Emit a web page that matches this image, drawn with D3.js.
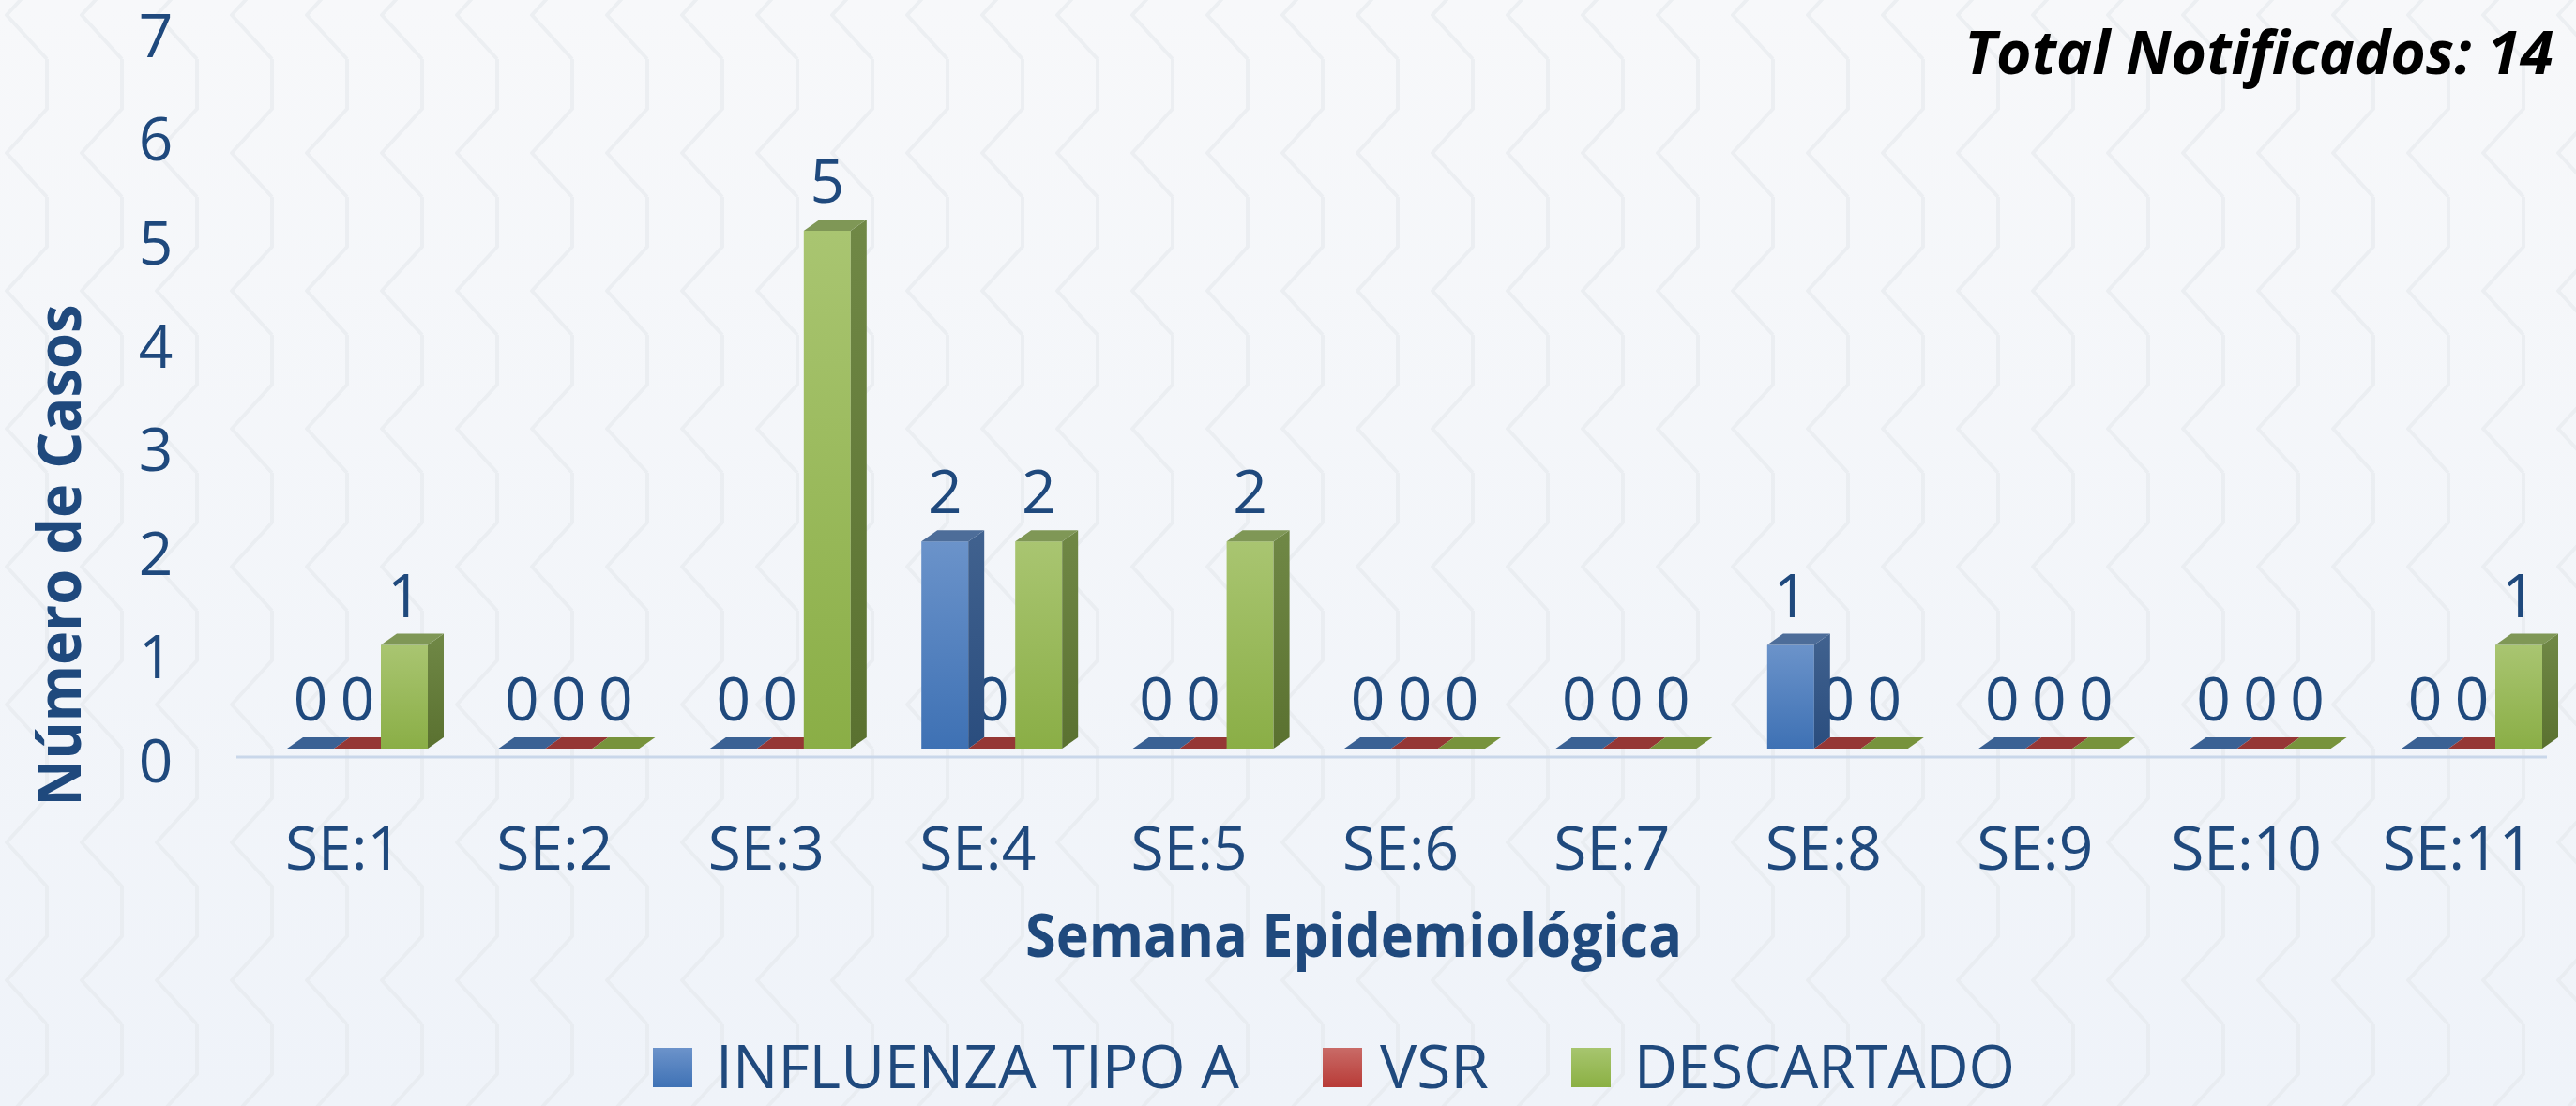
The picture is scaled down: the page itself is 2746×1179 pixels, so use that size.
<!DOCTYPE html>
<html>
<head>
<meta charset="utf-8">
<script src="https://cdnjs.cloudflare.com/ajax/libs/d3/7.8.5/d3.min.js"></script>
<style>
  html, body { margin: 0; padding: 0; background: #f3f6fa; }
  svg { display: block; }
</style>
</head>
<body>
<div id="chart"></div>
<script>
//---------------------------------- Data --------------------
var weeks = ["SE:1", "SE:2", "SE:3", "SE:4", "SE:5", "SE:6", "SE:7", "SE:8", "SE:9", "SE:10", "SE:11"];
var series_names = ["INFLUENZA TIPO A", "VSR", "DESCARTADO"];
var influenza = [0, 0, 0, 2, 0, 0, 0, 1, 0, 0, 0];
var vsr = [0, 0, 0, 0, 0, 0, 0, 0, 0, 0, 0];
var descartado = [1, 0, 5, 2, 2, 0, 0, 0, 0, 0, 1];
var y_ticks = [0, 1, 2, 3, 4, 5, 6, 7];
var total_label = "Total Notificados: 14";

//---------------------------------- View Elements and Variables --------------------
var width = 2746, height = 1179;
var text_color = "#1f497d";
var font = "'Open Sans', 'Noto Sans', sans-serif";
var depth_x = 17, depth_y = -12;   // 3D offset of the bar back faces
var floor_y = 798;

var colors = [
  {front: ["#6b93ca", "#3e71b4"], side: ["#41628f", "#2a4d7e"], top: "#4d6d99", flat: "#3a6194", key: ["#6c93ca", "#3f72b5"]},
  {front: ["#c0504d", "#a23d3a"], side: ["#7e2e2c", "#6e2523"], top: "#953735", flat: "#953735", key: ["#c96b67", "#b83b37"]},
  {front: ["#a9c571", "#8aae46"], side: ["#708846", "#5a7130"], top: "#7f9756", flat: "#77933c", key: ["#a7c56f", "#8bb043"]}
];

var svg = d3.select("#chart").append("svg")
  .attr("width", width)
  .attr("height", height)
  .attr("viewBox", "0 0 " + width + " " + height);

var defs = svg.append("defs");

// ---------- Background ----------
var bg = defs.append("linearGradient").attr("id", "bg_grad")
  .attr("x1", 0).attr("y1", 0).attr("x2", 0).attr("y2", 1);
bg.append("stop").attr("offset", "0%").attr("stop-color", "#f7f8fa");
bg.append("stop").attr("offset", "100%").attr("stop-color", "#eff3f9");

var pat = defs.append("pattern").attr("id", "zigzag")
  .attr("patternUnits", "userSpaceOnUse")
  .attr("width", 80).attr("height", 147)
  .attr("patternTransform", "translate(0,63)");
pat.append("path")
  .attr("d", "M50,0 L50,53 L7,100 L50,147")
  .attr("fill", "none")
  .attr("stroke", "#e3e7eb")
  .attr("stroke-width", 4)
  .attr("stroke-linejoin", "round");

svg.append("rect").attr("width", width).attr("height", height).attr("fill", "url(#bg_grad)");
svg.append("rect").attr("width", width).attr("height", height).attr("fill", "url(#zigzag)").attr("opacity", 0.55);

// ---------- Gradients for bar faces ----------
function vgrad(id, c) {
  var g = defs.append("linearGradient").attr("id", id)
    .attr("x1", 0).attr("y1", 0).attr("x2", 0).attr("y2", 1);
  g.append("stop").attr("offset", "0%").attr("stop-color", c[0]);
  g.append("stop").attr("offset", "100%").attr("stop-color", c[1]);
}
colors.forEach(function(c, i) {
  vgrad("front" + i, c.front);
  vgrad("side" + i, c.side);
  vgrad("key" + i, c.key);
});

//---------------------------------- Scales --------------------
var x_scale = d3.scaleBand()
  .domain(weeks)
  .range([268.3, 2747.7])
  .paddingInner(0.3345)
  .paddingOuter(0.16725);

var s_scale = d3.scaleBand()
  .domain(series_names)
  .range([0, x_scale.bandwidth()]);

var y_scale = d3.scaleLinear()
  .domain([0, 7])
  .range([floor_y, floor_y - 7 * 110.4]);

var data = [];
weeks.forEach(function(w, i) {
  [influenza, vsr, descartado].forEach(function(arr, s) {
    data.push({week: w, series: series_names[s], s: s, value: arr[i]});
  });
});

//---------------------------------- Axes --------------------
// floor line
svg.append("line")
  .attr("x1", 252).attr("x2", 2715)
  .attr("y1", floor_y + 9).attr("y2", floor_y + 9)
  .attr("stroke", "#c9d7ea")
  .attr("stroke-width", 3);

var y_axis = svg.append("g")
  .attr("class", "y_axis")
  .attr("transform", "translate(166,12)")
  .call(d3.axisLeft(y_scale).tickValues(y_ticks).tickFormat(d3.format("d")).tickSize(0).tickPadding(0));
y_axis.select(".domain").remove();
y_axis.selectAll("text")
  .attr("x", 0)
  .attr("dy", "0.36em")
  .attr("text-anchor", "middle")
  .attr("fill", text_color)
  .style("font-family", font)
  .style("font-size", "64px");

var x_axis = svg.append("g")
  .attr("class", "x_axis")
  .attr("transform", "translate(-15,927)")
  .call(d3.axisBottom(x_scale).tickSize(0).tickPadding(0));
x_axis.select(".domain").remove();
x_axis.selectAll("text")
  .attr("y", 0)
  .attr("dy", 0)
  .attr("fill", text_color)
  .style("font-family", font)
  .style("font-size", "64px");

// axis titles
svg.append("text")
  .attr("transform", "translate(86,592) rotate(-90)")
  .attr("text-anchor", "middle")
  .attr("fill", text_color)
  .attr("textLength", 535)
  .attr("lengthAdjust", "spacingAndGlyphs")
  .style("font-family", font)
  .style("font-size", "64px")
  .style("font-weight", "bold")
  .text("Número de Casos");

svg.append("text")
  .attr("x", 1443).attr("y", 1020)
  .attr("text-anchor", "middle")
  .attr("fill", text_color)
  .attr("textLength", 700)
  .attr("lengthAdjust", "spacingAndGlyphs")
  .style("font-family", font)
  .style("font-size", "64px")
  .style("font-weight", "bold")
  .text("Semana Epidemiológica");

svg.append("text")
  .attr("x", 2722).attr("y", 79)
  .attr("text-anchor", "end")
  .attr("fill", "#000")
  .attr("textLength", 628)
  .attr("lengthAdjust", "spacingAndGlyphs")
  .style("font-family", font)
  .style("font-size", "64px")
  .style("font-weight", "bold")
  .style("font-style", "italic")
  .text(total_label);

//---------------------------------- Value labels (drawn under the bars) --------------------
svg.append("g").selectAll(".value_label")
  .data(data)
  .enter().append("text")
  .attr("class", "value_label")
  .attr("x", function(d) { return x_scale(d.week) + s_scale(d.series) + s_scale.bandwidth() / 2; })
  .attr("y", function(d) { return y_scale(d.value) - 30; })
  .attr("text-anchor", "middle")
  .attr("fill", text_color)
  .style("font-family", font)
  .style("font-size", "64px")
  .text(function(d) { return d.value; });

//---------------------------------- 3D Bars --------------------
var bw = s_scale.bandwidth();
var bars = svg.append("g").selectAll(".bar")
  .data(data)
  .enter().append("g")
  .attr("class", "bar");

bars.each(function(d) {
  var g = d3.select(this);
  var x0 = x_scale(d.week) + s_scale(d.series);
  var top = y_scale(d.value);
  var c = colors[d.s];
  if (d.value > 0) {
    g.append("rect")
      .attr("x", x0).attr("y", top)
      .attr("width", bw).attr("height", floor_y - top)
      .attr("fill", "url(#front" + d.s + ")");
    g.append("polygon")
      .attr("points", [[x0 + bw, top], [x0 + bw + depth_x, top + depth_y],
                       [x0 + bw + depth_x, floor_y + depth_y], [x0 + bw, floor_y]].join(" "))
      .attr("fill", "url(#side" + d.s + ")");
    g.append("polygon")
      .attr("points", [[x0, top], [x0 + bw, top], [x0 + bw + depth_x, top + depth_y],
                       [x0 + depth_x, top + depth_y]].join(" "))
      .attr("fill", c.top);
  } else {
    g.append("polygon")
      .attr("points", [[x0, floor_y], [x0 + bw, floor_y], [x0 + bw + depth_x, floor_y + depth_y],
                       [x0 + depth_x, floor_y + depth_y]].join(" "))
      .attr("fill", c.flat);
  }
});

//---------------------------------- Legend --------------------
var legend_items = [
  {sq: 696, tx: 763, len: 558},
  {sq: 1410, tx: 1471, len: 116},
  {sq: 1675, tx: 1742, len: 406}
];
var legend = svg.append("g").attr("class", "legend");
series_names.forEach(function(name, i) {
  var it = legend_items[i];
  legend.append("rect")
    .attr("x", it.sq).attr("y", 1117)
    .attr("width", 42).attr("height", 42)
    .attr("fill", "url(#key" + i + ")");
  legend.append("text")
    .attr("x", it.tx).attr("y", 1160)
    .attr("fill", text_color)
    .attr("textLength", it.len)
    .attr("lengthAdjust", "spacingAndGlyphs")
    .style("font-family", font)
    .style("font-size", "64px")
    .text(name);
});
</script>
</body>
</html>
